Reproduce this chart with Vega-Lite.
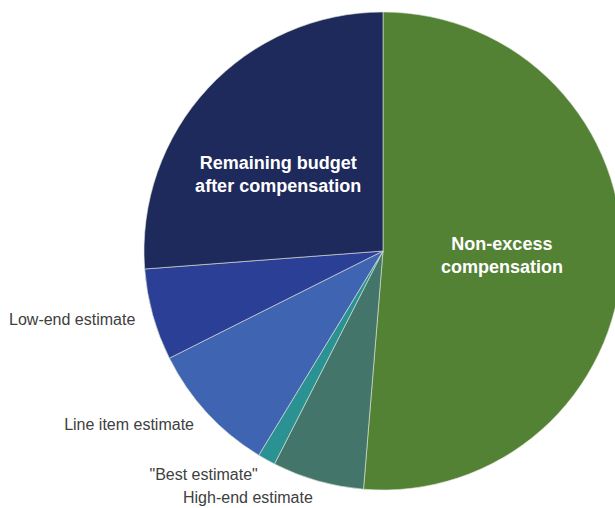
{
  "$schema": "https://vega.github.io/schema/vega-lite/v6.json",
  "width": 615,
  "height": 508,
  "autosize": "none",
  "padding": 0,
  "background": "white",
  "view": {"stroke": null},
  "data": {
    "values": [
      {"k": 1, "slice": "Non-excess compensation", "value": 51.3, "outer": "", "inner": "Non-excess\ncompensation"},
      {"k": 2, "slice": "High-end estimate", "value": 6.2, "outer": "High-end estimate", "inner": ""},
      {"k": 3, "slice": "\"Best estimate\"", "value": 1.2, "outer": "\"Best estimate\"", "inner": ""},
      {"k": 4, "slice": "Line item estimate", "value": 8.9, "outer": "Line item estimate", "inner": ""},
      {"k": 5, "slice": "Low-end estimate", "value": 6.2, "outer": "Low-end estimate", "inner": ""},
      {"k": 6, "slice": "Remaining budget after compensation", "value": 26.2, "outer": "", "inner": "Remaining budget\nafter compensation"}
    ]
  },
  "encoding": {
    "theta": {"field": "value", "type": "quantitative", "stack": true},
    "order": {"field": "k", "type": "quantitative"}
  },
  "layer": [
    {
      "mark": {"type": "arc", "outerRadius": 239, "x": 383, "y": 251, "stroke": "#dfe6d8", "strokeWidth": 0.6},
      "encoding": {
        "color": {
          "field": "slice",
          "type": "nominal",
          "sort": {"field": "k"},
          "scale": {
            "domain": ["Non-excess compensation", "High-end estimate", "\"Best estimate\"", "Line item estimate", "Low-end estimate", "Remaining budget after compensation"],
            "range": ["#548235", "#44756A", "#2A9292", "#3F65B2", "#2B3F96", "#1F2A5C"]
          },
          "legend": null
        }
      }
    },
    {
      "mark": {"type": "text", "radius": 257, "x": 383, "y": 251, "align": "right", "baseline": "middle", "font": "Liberation Sans", "fontSize": 16, "color": "#404040"},
      "encoding": {"text": {"field": "outer"}}
    },
    {
      "mark": {"type": "text", "radius": 119, "x": 383, "y": 251, "dy": -11, "align": "center", "baseline": "middle", "font": "Liberation Sans", "fontSize": 18, "fontWeight": "bold", "color": "white", "lineBreak": "\n", "lineHeight": 23},
      "encoding": {"text": {"condition": {"test": "datum.k == 1", "field": "inner"}, "value": ""}}
    },
    {
      "mark": {"type": "text", "radius": 131, "thetaOffset": -0.105, "x": 383, "y": 251, "dy": -8, "align": "center", "baseline": "middle", "font": "Liberation Sans", "fontSize": 18, "fontWeight": "bold", "color": "white", "lineBreak": "\n", "lineHeight": 23},
      "encoding": {"text": {"condition": {"test": "datum.k == 6", "field": "inner"}, "value": ""}}
    }
  ]
}
